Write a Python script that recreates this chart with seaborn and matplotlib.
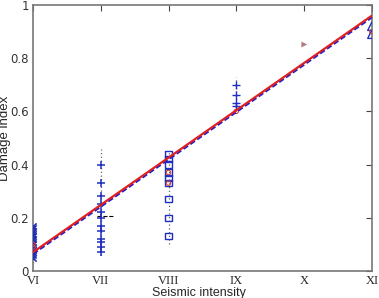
import matplotlib
matplotlib.use("Agg")
import matplotlib.pyplot as plt
import seaborn as sns
import pandas as pd
import numpy as np

# ---- data ----
intensity_labels = ["VI", "VII", "VIII", "IX", "X", "XI"]
intensity_pos = [6, 7, 8, 9, 10, 11]

vi_vals = [0.05, 0.06, 0.07, 0.08, 0.09, 0.10, 0.11, 0.12, 0.13, 0.14, 0.15, 0.16, 0.17]
vii_vals = [0.40, 0.33, 0.28, 0.25, 0.22, 0.20, 0.17, 0.15, 0.12, 0.11, 0.09, 0.07]
viii_vals = [0.44, 0.42, 0.40, 0.37, 0.35, 0.33, 0.27, 0.20, 0.13]
ix_vals = [0.70, 0.66, 0.63, 0.62]
x_vals = [0.853]
xi_vals = [0.92, 0.89]

red_x = [6, 6, 8, 8, 9, 11]
red_y = [0.09, 0.10, 0.37, 0.33, 0.60, 0.90]

range_lo = [0.03, 0.06, 0.10, 0.60, 0.853, 0.87]
range_hi = [0.18, 0.46, 0.45, 0.73, 0.853, 0.93]

fit_x = [6, 11]
fit_red = [0.07, 0.96]
fit_blue = [0.065, 0.955]

# ---- figure ----
sns.set_style("white")
plt.rcParams["font.family"] = ["Liberation Sans Narrow", "DejaVu Sans"]
fig = plt.figure(figsize=(3.79, 2.98), dpi=100)
ax = fig.add_axes([0.087, 0.091, 0.894, 0.892])

# dotted ranges
for xp, lo, hi in zip(intensity_pos, range_lo, range_hi):
    if hi > lo:
        ax.plot([xp, xp], [lo, hi], ls=(0, (1, 2)), color="#666666", lw=0.9, zorder=1)

blue = "#1f2fbf"
sns.scatterplot(x=[6]*len(vi_vals), y=vi_vals, marker="x", color=blue, s=20, linewidth=1.2, ax=ax, zorder=3)
sns.scatterplot(x=[7]*len(vii_vals), y=vii_vals, marker="+", color=blue, s=30, linewidth=1.1, ax=ax, zorder=3)
sns.scatterplot(x=[8]*len(viii_vals), y=viii_vals, marker="s", facecolor="none", edgecolor=blue, s=20, linewidth=1.0, ax=ax, zorder=3)
sns.scatterplot(x=[9]*len(ix_vals), y=ix_vals, marker="+", color=blue, s=35, linewidth=1.0, ax=ax, zorder=3)
sns.scatterplot(x=[10]*len(x_vals), y=x_vals, marker=">", color="#b07a80", s=25, linewidth=0.5, ax=ax, zorder=3)
sns.scatterplot(x=[11]*len(xi_vals), y=xi_vals, marker="^", facecolor="none", edgecolor=blue, s=35, linewidth=1.0, ax=ax, zorder=3)
sns.scatterplot(x=red_x, y=red_y, marker="o", facecolor="none", edgecolor="#d04040", s=10, linewidth=0.8, ax=ax, zorder=4)

# short dashed mean mark at VII
ax.plot([6.95, 7.2], [0.205, 0.205], ls="--", color="black", lw=0.8, zorder=2)

sns.lineplot(x=fit_x, y=fit_blue, color="#2020d0", ls=(0, (2, 1)), lw=2.0, ax=ax, zorder=5)
sns.lineplot(x=fit_x, y=fit_red, color="#e02020", lw=1.6, ax=ax, zorder=6)

ax.set_xlim(6, 11)
ax.set_ylim(0, 1)
ax.set_xticks(intensity_pos)
ax.set_xticklabels(intensity_labels, family="Liberation Serif", fontsize=9)
ax.set_yticks([0, 0.2, 0.4, 0.6, 0.8, 1.0])
ax.set_yticklabels(["0", "0.2", "0.4", "0.6", "0.8", "1"], fontsize=8.5, color="#333333")
ax.tick_params(direction="in", length=4, width=0.8, top=True, right=True, color="#444444", pad=3)
for sp in ax.spines.values():
    sp.set_color("#777777")
    sp.set_linewidth(1.2)

ax.set_xlabel("Seismic intensity", family="Liberation Sans", fontsize=9)
ax.xaxis.set_label_coords(0.49, -0.06, transform=ax.transAxes)
ax.xaxis.label.set_va("top")
ax.set_ylabel("Damage index", family="Liberation Sans", fontsize=9.5)
ax.yaxis.set_label_coords(-0.064, 0.5, transform=ax.transAxes)

fig.savefig("out.png", dpi=100)
